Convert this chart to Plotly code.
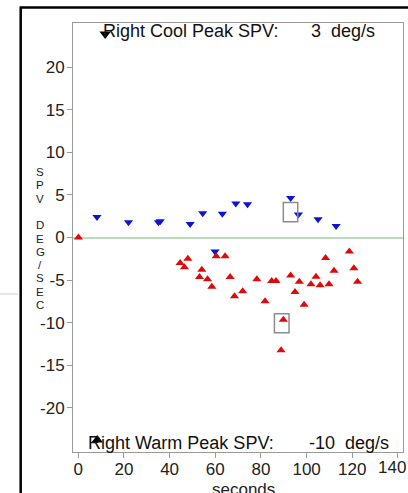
import plotly.graph_objects as go

# ---- data ----
cool_t = [8.2, 22.0, 35.1, 35.9, 49.0, 54.5, 59.9, 63.1, 69.0, 74.1, 93.0, 96.4, 105.0, 112.9]
cool_spv = [2.4, 1.8, 1.8, 1.9, 1.6, 2.85, -1.65, 2.8, 4.0, 3.9, 4.65, 2.7, 2.15, 1.35]

warm_t = [0.1, 44.6, 46.5, 48.0, 53.1, 54.1, 56.6, 58.5, 60.4, 64.3, 66.5, 68.4, 72.0,
          78.2, 81.8, 84.7, 86.6, 88.8, 89.8, 93.0, 94.9, 96.8, 98.9, 101.9, 104.1,
          105.9, 108.3, 109.8, 112.0, 118.7, 120.7, 122.3]
warm_spv = [0.0, -3.0, -3.5, -2.5, -4.65, -3.8, -4.9, -5.8, -2.2, -2.2, -4.65, -6.9, -6.3,
            -4.9, -7.5, -5.1, -5.1, -13.25, -9.65, -4.45, -6.4, -5.2, -7.9, -5.5, -4.6,
            -5.6, -2.4, -5.5, -3.9, -1.65, -3.6, -5.2]

peak_cool_value = 3
peak_warm_value = -10
peak_marker_t = [11.8, 8.3]
peak_marker_spv = [23.9, -23.8]

# highlighted peak windows (x0, x1, y0, y1)
box_x0 = [89.8, 85.9]
box_x1 = [96.1, 92.3]
box_y0 = [1.85, -11.2]
box_y1 = [4.1, -8.95]

x_ticks = [0, 20, 40, 60, 80, 100, 120, 140]
x_ticklabels = ["0", "20", "40", "60", "80", "100", "120", "140"]
y_ticks = [-20, -15, -10, -5, 0, 5, 10, 15, 20]
y_ticklabels = ["-20", "-15", "-10", "-5", "0", "5", "10", "15", "20"]
y_title_letters = ["S", "P", "V", "", "D", "E", "G", "/", "S", "E", "C"]

# ---- layout geometry (pixels) ----
W, H = 408, 493
ML, MR, MT, MB = 73, 5, 23, 41
PW, PH = W - ML - MR, H - MT - MB


def px(x):
    return (x - ML) / PW


def py(y):
    return (H - MB - y) / PH


fig = go.Figure()
fig.add_trace(go.Scatter(x=cool_t, y=cool_spv, mode="markers",
                         marker=dict(symbol="triangle-down", size=8, color="#0a14d2"),
                         showlegend=False, cliponaxis=False))
fig.add_trace(go.Scatter(x=warm_t, y=warm_spv, mode="markers",
                         marker=dict(symbol="triangle-up", size=8, color="#dc0a0a"),
                         showlegend=False, cliponaxis=False))
fig.add_trace(go.Scatter(x=peak_marker_t, y=peak_marker_spv, mode="markers",
                         marker=dict(symbol=["triangle-down", "triangle-up"], size=10, color="#000000"),
                         showlegend=False, cliponaxis=False))

shapes = []
for a, b, c, d in zip(box_x0, box_x1, box_y0, box_y1):
    shapes.append(dict(type="rect", xref="x", yref="y", x0=a, x1=b, y0=c, y1=d,
                       line=dict(color="#8c8c8c", width=1.5)))
# outer black frame (photo border)
shapes.append(dict(type="rect", xref="paper", yref="paper",
                   x0=px(20.7), x1=px(430), y0=py(7.5), y1=py(520),
                   line=dict(color="#000000", width=2.5), layer="below"))
# faint gray line at far left
shapes.append(dict(type="line", xref="paper", yref="paper",
                   x0=px(0), x1=px(18), y0=py(294), y1=py(294),
                   line=dict(color="#cfcfcf", width=1)))

font_family = "Liberation Sans, Arial, sans-serif"
tick_font = dict(size=17, color="#222222", family=font_family)
ann = []
ann.append(dict(text="Right Cool Peak SPV:", x=px(101), y=py(31), xref="paper", yref="paper",
                xanchor="left", yanchor="middle", showarrow=False,
                font=dict(size=18, color="#111111", family=font_family)))
ann.append(dict(text=f"{peak_cool_value}\u00a0\u00a0deg/s", x=px(377), y=py(31), xref="paper", yref="paper",
                xanchor="right", yanchor="middle", showarrow=False,
                font=dict(size=18, color="#111111", family=font_family)))
ann.append(dict(text="Right Warm Peak SPV:", x=px(86), y=py(443), xref="paper", yref="paper",
                xanchor="left", yanchor="middle", showarrow=False,
                font=dict(size=18, color="#111111", family=font_family)))
ann.append(dict(text=f"{peak_warm_value}\u00a0\u00a0deg/s", x=px(391), y=py(443), xref="paper", yref="paper",
                xanchor="right", yanchor="middle", showarrow=False,
                font=dict(size=18, color="#111111", family=font_family)))
# vertical stacked y-axis title "SPV DEG/SEC"
for i, ch in enumerate(y_title_letters):
    if not ch:
        continue
    ann.append(dict(text=ch, x=px(40), y=py(172 + 13.3 * i), xref="paper", yref="paper",
                    xanchor="center", yanchor="middle", showarrow=False,
                    font=dict(size=11.5, color="#222222", family=font_family)))
ann.append(dict(text="seconds", x=px(243), y=py(490), xref="paper", yref="paper",
                xanchor="center", yanchor="middle", showarrow=False,
                font=dict(size=17, color="#222222", family=font_family)))
# last x tick label sits at the right edge of the page; keep it inside the page
ann.append(dict(text=x_ticklabels[-1], x=px(407.5), y=py(467), xref="paper", yref="paper",
                xanchor="right", yanchor="middle", showarrow=False, font=tick_font))
x_ticktext = x_ticklabels[:-1] + [""]

axis_common = dict(showgrid=False, showline=True, linecolor="#9a9a9a", linewidth=1, mirror=True,
                   ticks="outside", ticklen=5, tickcolor="#9a9a9a", tickwidth=1,
                   tickfont=tick_font)

fig.update_layout(
    width=W, height=H,
    margin=dict(l=ML, r=MR, t=MT, b=MB, pad=0),
    paper_bgcolor="white", plot_bgcolor="white",
    xaxis=dict(range=[-2.3, 142.2], tickvals=x_ticks, ticktext=x_ticktext,
               ticklabelstandoff=-3, zeroline=False, **axis_common),
    yaxis=dict(range=[-25.2, 25.2], tickvals=y_ticks, ticktext=y_ticklabels,
               ticklabelstandoff=-1,
               zeroline=True, zerolinecolor="#b9dfb9", zerolinewidth=1.5, **axis_common),
    shapes=shapes, annotations=ann,
)

fig.write_html("out.html")
